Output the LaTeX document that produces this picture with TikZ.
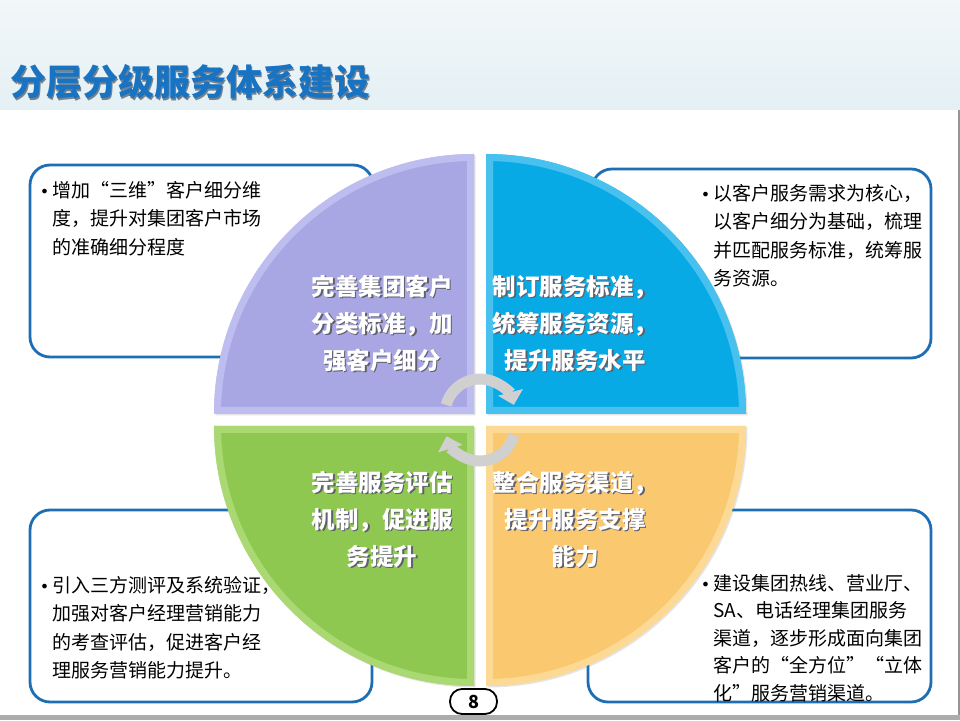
\documentclass[tikz,border=0pt]{standalone}
\usepackage{fontspec}
\setmainfont{Noto Sans CJK SC}
\newfontfamily\dejavu{DejaVu Sans}
\usetikzlibrary{arrows.meta,shadows}
\definecolor{boxblue}{RGB}{30,110,180}
\definecolor{titleblue}{RGB}{25,115,195}
\definecolor{titleshade}{RGB}{120,130,140}
\definecolor{bandtop}{RGB}{242,247,249}
\definecolor{bandbot}{RGB}{228,240,244}
\definecolor{qlav}{RGB}{168,167,228}
\definecolor{qlavl}{RGB}{198,197,243}
\definecolor{qcyan}{RGB}{8,170,230}
\definecolor{qcyanl}{RGB}{95,202,243}
\definecolor{qgreen}{RGB}{142,200,80}
\definecolor{qgreenl}{RGB}{180,223,128}
\definecolor{qorange}{RGB}{250,200,110}
\definecolor{qorangel}{RGB}{253,223,162}
\definecolor{arrowgray}{RGB}{208,208,208}
\definecolor{edgegray}{RGB}{150,150,150}
\definecolor{txtshade}{RGB}{95,95,110}
\tikzset{
  infobox/.style={draw=boxblue, line width=2.8pt, rounded corners=20pt},
  boxtext/.style={anchor=north west, align=left, inner sep=0pt, text=black, font=\fontsize{19}{28.5}\selectfont},
  quadtext/.style={align=center, inner sep=0pt, text=white, font=\bfseries\fontsize{23.5}{37}\selectfont},
  cyclearrow/.style={draw=arrowgray, line width=11pt, -{Triangle[width=25pt,length=13pt]}},
}
% text with a soft offset shadow, kept in one node
\newcommand\shd[2]{\makebox[0pt][l]{\kern1.5pt\raisebox{-1.5pt}{\color{#1}#2}}#2}
\newcommand\drawquad[5]{%
  \fill[#4, drop shadow={shadow xshift=1.5pt,shadow yshift=-1.5pt,opacity=0.2}]
    (#1,#2) -- ++(#3:260) arc[start angle=#3, delta angle=-90, radius=260] -- cycle;
  \begin{scope}
    \clip (#1,#2) -- ++(#3:260) arc[start angle=#3, delta angle=-90, radius=260] -- cycle;
    \draw[#5, line width=14pt, opacity=0.75]
      (#1,#2) -- ++(#3:260) arc[start angle=#3, delta angle=-90, radius=260] -- cycle;
  \end{scope}}
\newcommand\bul{\llap{{\dejavu\fontsize{16}{16}\selectfont •}\kern3pt}}
\begin{document}
\begin{tikzpicture}[x=1pt,y=1pt]
\useasboundingbox (0,0) rectangle (960,720);
\fill[white] (0,0) rectangle (960,720);
% top band
\shade[top color=bandtop, bottom color=bandbot] (0,610) rectangle (960,720);
% frame lines
\draw[edgegray, line width=2pt] (959,5) -- (959,610);
\fill[gray!65] (0,0) rectangle (960,5);
% title
\node[anchor=west, inner sep=0pt, text=titleblue, font=\bfseries\fontsize{36}{36}\selectfont] (title) at (10,637) {\shd{titleshade}{分层分级服务体系建设}};
% boxes
\draw[infobox] (30,363) rectangle (373,555);
\draw[infobox] (592,362) rectangle (931,551);
\draw[infobox] (30,18) rectangle (372,210);
\draw[infobox] (588,18) rectangle (931,210);
% quadrants
\drawquad{474}{306}{180}{qlav}{qlavl}
\drawquad{486}{306}{90}{qcyan}{qcyanl}
\drawquad{474}{294}{270}{qgreen}{qgreenl}
\drawquad{486}{294}{0}{qorange}{qorangel}
% quadrant texts
\node[quadtext] (tl) at (382,396) {\shd{txtshade}{完善集团客户}\\\shd{txtshade}{分类标准，加}\\\shd{txtshade}{强客户细分}};
\node[quadtext] (tr) at (575,396) {\shd{txtshade}{制订服务标准，}\\\shd{txtshade}{统筹服务资源，}\\\shd{txtshade}{提升服务水平}};
\node[quadtext] (bl) at (382,200) {\shd{txtshade}{完善服务评估}\\\shd{txtshade}{机制，促进服}\\\shd{txtshade}{务提升}};
\node[quadtext] (br) at (575,200) {\shd{txtshade}{整合服务渠道，}\\\shd{txtshade}{提升服务支撑}\\\shd{txtshade}{能力}};
% cycle arrows
\draw[cyclearrow] (480,306) ++(165:35) arc[start angle=165, end angle=15, radius=35];
\draw[cyclearrow] (480,294) ++(-15:35) arc[start angle=-15, end angle=-163, radius=35];
% box texts
\node[boxtext] (t1) at (52,539) {\bul 增加“三维”客户细分维\\度，提升对集团客户市场\\的准确细分程度};
\node[boxtext] (t2) at (713,536) {\bul 以客户服务需求为核心，\\以客户细分为基础，梳理\\并匹配服务标准，统筹服\\务资源。};
\node[boxtext] (t3) at (52,144) {\bul 引入三方测评及系统验证，\\加强对客户经理营销能力\\的考查评估，促进客户经\\理服务营销能力提升。};
\node[boxtext, font=\fontsize{19}{27.5}\selectfont] (t4) at (713,146) {\bul 建设集团热线、营业厅、\\SA、电话经理集团服务\\渠道，逐步形成面向集团\\客户的“全方位”“立体\\化”服务营销渠道。};
% page number
\node[draw=black, line width=1.8pt, rounded corners=12pt, minimum width=47pt, minimum height=25pt, inner sep=0pt, fill=white, font=\bfseries\fontsize{18}{18}\selectfont] (pg) at (473.5,18.5) {8};
\end{tikzpicture}
\end{document}
